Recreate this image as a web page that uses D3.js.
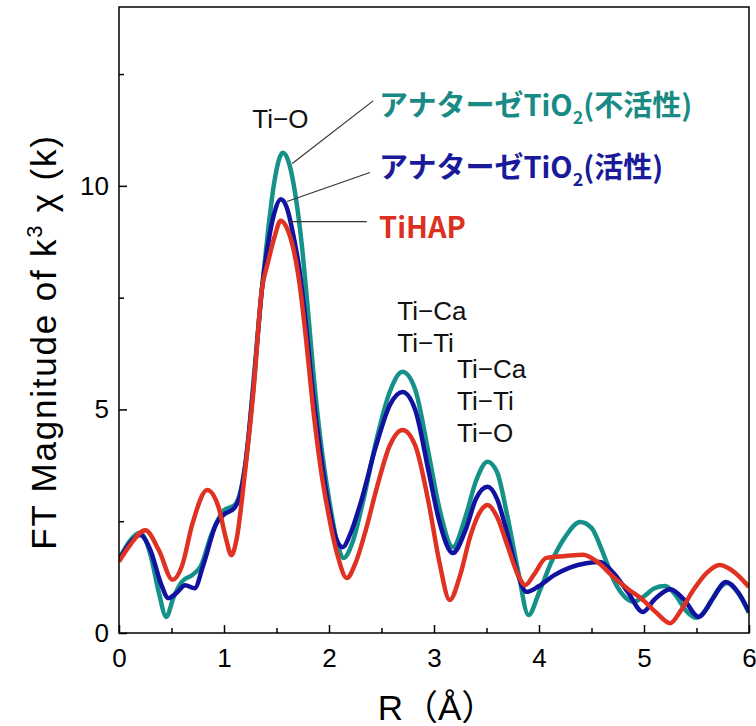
<!DOCTYPE html>
<html>
<head>
<meta charset="utf-8">
<script src="https://cdn.jsdelivr.net/npm/d3@7/dist/d3.min.js"></script>
<style>
  body { margin: 0; background: #fff; }
  svg { display: block; }
</style>
</head>
<body>
<svg width="756" height="726"></svg>
<script>
// R (Å) and FT magnitude
var rInactive = [0, 0.1, 0.2, 0.3, 0.38, 0.45, 0.52, 0.6, 0.7, 0.78, 0.88, 1.0, 1.1, 1.16, 1.22, 1.28, 1.36, 1.42, 1.48, 1.56, 1.62, 1.68, 1.74, 1.8, 1.86, 1.92, 2.0, 2.08, 2.14, 2.22, 2.32, 2.45, 2.58, 2.7, 2.82, 2.95, 3.05, 3.18, 3.3, 3.4, 3.51, 3.6, 3.7, 3.8, 3.9, 4.0, 4.12, 4.25, 4.39, 4.5, 4.6, 4.71, 4.8, 4.9, 5.0, 5.1, 5.2, 5.3, 5.4, 5.5, 5.6, 5.7, 5.79, 5.9, 6.0];
var fInactive = [1.65, 2.05, 2.24, 1.75, 0.9, 0.36, 0.8, 1.15, 1.3, 1.5, 2.2, 2.75, 2.86, 3.2, 4.1, 5.6, 7.67, 9.0, 10.1, 10.74, 10.5, 9.8, 8.7, 7.2, 5.6, 4.3, 3.0, 2.0, 1.68, 2.0, 2.9, 4.3, 5.4, 5.84, 5.45, 4.0, 2.8, 1.92, 2.6, 3.4, 3.83, 3.6, 2.6, 1.4, 0.4, 0.9, 1.6, 2.15, 2.48, 2.35, 1.85, 1.19, 0.85, 0.7, 0.82, 1.0, 1.05, 0.85, 0.5, 0.34, 0.55, 0.95, 1.12, 0.88, 0.45];

var rActive = [0, 0.1, 0.2, 0.3, 0.4, 0.47, 0.55, 0.63, 0.72, 0.8, 0.93, 1.0, 1.1, 1.15, 1.2, 1.28, 1.36, 1.42, 1.48, 1.54, 1.6, 1.66, 1.72, 1.78, 1.85, 1.92, 2.0, 2.07, 2.13, 2.2, 2.3, 2.45, 2.58, 2.7, 2.82, 2.95, 3.05, 3.18, 3.3, 3.4, 3.51, 3.6, 3.7, 3.8, 3.88, 4.0, 4.15, 4.3, 4.45, 4.58, 4.71, 4.85, 4.99, 5.1, 5.25, 5.38, 5.52, 5.65, 5.78, 5.9, 6.0];
var fActive = [1.63, 2.0, 2.19, 1.85, 1.1, 0.78, 0.9, 1.07, 1.0, 1.5, 2.46, 2.65, 2.8, 3.05, 3.7, 5.5, 7.67, 8.7, 9.4, 9.7, 9.5, 8.9, 8.1, 6.9, 5.3, 4.0, 2.8, 2.1, 1.92, 2.2, 2.9, 4.2, 5.1, 5.39, 5.0, 3.6, 2.5, 1.79, 2.3, 3.0, 3.27, 3.0, 2.2, 1.3, 0.92, 1.05, 1.3, 1.47, 1.56, 1.59, 1.34, 0.9, 0.47, 0.75, 0.98, 0.75, 0.36, 0.75, 1.14, 0.9, 0.47];

var rTiHAP = [0, 0.1, 0.25, 0.38, 0.51, 0.6, 0.7, 0.84, 0.95, 1.02, 1.07, 1.12, 1.2, 1.28, 1.36, 1.42, 1.48, 1.54, 1.6, 1.66, 1.72, 1.78, 1.85, 1.92, 2.0, 2.08, 2.17, 2.25, 2.35, 2.45, 2.58, 2.7, 2.82, 2.95, 3.05, 3.15, 3.25, 3.35, 3.45, 3.51, 3.6, 3.7, 3.8, 3.87, 3.95, 4.07, 4.25, 4.42, 4.55, 4.71, 4.85, 4.99, 5.12, 5.25, 5.35, 5.47, 5.6, 5.72, 5.85, 6.0];
var fTiHAP = [1.6, 1.95, 2.3, 1.85, 1.19, 1.5, 2.45, 3.2, 2.8, 2.1, 1.74, 2.1, 3.6, 5.4, 7.67, 8.3, 8.85, 9.22, 9.05, 8.6, 7.8, 6.6, 5.0, 3.7, 2.6, 1.75, 1.23, 1.55, 2.3, 3.2, 4.2, 4.54, 4.2, 2.9, 1.6, 0.74, 1.3, 2.2, 2.75, 2.86, 2.6, 1.95, 1.3, 1.07, 1.3, 1.68, 1.72, 1.75, 1.6, 1.25, 0.98, 0.74, 0.45, 0.22, 0.5, 0.96, 1.35, 1.52, 1.38, 1.03];

var xMajor = [0, 1, 2, 3, 4, 5, 6];
var xMinor = [0.5, 1.5, 2.5, 3.5, 4.5, 5.5];
var yMajor = [0, 5, 10];
var yMinor = [2.5, 7.5, 12.5];

var peaks = [
  { lines: ["Ti\u2212O"], r: 1.27, v: 11.3 },
  { lines: ["Ti\u2212Ca", "Ti\u2212Ti"], r: 2.65, v: 7.0 },
  { lines: ["Ti\u2212Ca", "Ti\u2212Ti", "Ti\u2212O"], r: 3.22, v: 5.7 }
];

var svg = d3.select("svg"),
    margin = { top: 7, right: 7, bottom: 93, left: 119 },
    width = +svg.attr("width"),
    height = +svg.attr("height");

var x = d3.scaleLinear()
    .domain([0, 6])
    .range([margin.left, width - margin.right]);

var y = d3.scaleLinear()
    .domain([0, 14])
    .range([height - margin.bottom, margin.top]);

var series = [
  { r: rInactive, f: fInactive, color: "#15918a", label: "inactive" },
  { r: rActive, f: fActive, color: "#1212a0", label: "active" },
  { r: rTiHAP, f: fTiHAP, color: "#e03222", label: "TiHAP" }
];

// axes, ticks pointing inward
var tickFont = "26px 'Liberation Sans', Arial, sans-serif";

svg.append("g")
    .attr("transform", "translate(0," + y(0) + ")")
    .call(d3.axisBottom(x).tickValues(xMajor).tickSize(-8).tickPadding(16).tickFormat(d3.format("d")))
    .call(function (g) { g.select(".domain").remove(); })
    .call(function (g) { g.selectAll("text").style("font", tickFont).attr("fill", "#000"); })
    .call(function (g) { g.selectAll("line").attr("stroke", "#000").attr("stroke-width", 1.5); });

svg.append("g")
    .attr("transform", "translate(0," + y(0) + ")")
    .call(d3.axisBottom(x).tickValues(xMinor).tickSize(-5).tickFormat(""))
    .call(function (g) { g.select(".domain").remove(); })
    .call(function (g) { g.selectAll("line").attr("stroke", "#000").attr("stroke-width", 1.5); });

svg.append("g")
    .attr("transform", "translate(" + x(0) + ",0)")
    .call(d3.axisLeft(y).tickValues(yMajor).tickSize(-8).tickPadding(10).tickFormat(d3.format("d")))
    .call(function (g) { g.select(".domain").remove(); })
    .call(function (g) { g.selectAll("text").style("font", tickFont).attr("fill", "#000"); })
    .call(function (g) { g.selectAll("line").attr("stroke", "#000").attr("stroke-width", 1.5); });

svg.append("g")
    .attr("transform", "translate(" + x(0) + ",0)")
    .call(d3.axisLeft(y).tickValues(yMinor).tickSize(-5).tickFormat(""))
    .call(function (g) { g.select(".domain").remove(); })
    .call(function (g) { g.selectAll("line").attr("stroke", "#000").attr("stroke-width", 1.5); });

// curves
var line = d3.line()
    .x(function (d) { return x(d[0]); })
    .y(function (d) { return y(d[1]); })
    .curve(d3.curveMonotoneX);

svg.append("defs").append("clipPath").attr("id", "plot")
  .append("rect")
    .attr("x", x(0)).attr("y", y(14))
    .attr("width", x(6) - x(0)).attr("height", y(0) - y(14));

svg.append("g")
    .attr("clip-path", "url(#plot)")
  .selectAll("path")
  .data(series)
  .enter().append("path")
    .attr("d", function (s) { return line(d3.zip(s.r, s.f)); })
    .attr("fill", "none")
    .attr("stroke", function (s) { return s.color; })
    .attr("stroke-width", 4.5)
    .attr("stroke-linejoin", "round");

// frame
svg.append("rect")
    .attr("x", x(0)).attr("y", y(14))
    .attr("width", x(6) - x(0)).attr("height", y(0) - y(14))
    .attr("fill", "none")
    .attr("stroke", "#000")
    .attr("stroke-width", 1.5);

// legend with leader lines to the main peak
var legend = [
  { text: "\u30a2\u30ca\u30bf\u30fc\u30bc", sub: "2", tail: "(\u4e0d\u6d3b\u6027)", color: "#198a84", r0: 1.65, v0: 10.5, r1: 2.42, v1: 11.9, ly: 116 },
  { text: "\u30a2\u30ca\u30bf\u30fc\u30bc", sub: "2", tail: "(\u6d3b\u6027)", color: "#1a1a9a", r0: 1.6, v0: 9.65, r1: 2.39, v1: 10.3, ly: 178 },
  { text: "TiHAP", sub: null, tail: "", color: "#dc3020", r0: 1.62, v0: 9.2, r1: 2.36, v1: 9.2, ly: 238 }
];

svg.append("g").selectAll("line")
  .data(legend)
  .enter().append("line")
    .attr("x1", function (d) { return x(d.r0); })
    .attr("y1", function (d) { return y(d.v0); })
    .attr("x2", function (d) { return x(d.r1); })
    .attr("y2", function (d) { return y(d.v1); })
    .attr("stroke", "#333")
    .attr("stroke-width", 1.2);

var lt = svg.append("g").selectAll("text")
  .data(legend)
  .enter().append("text")
    .attr("x", 379)
    .attr("y", function (d) { return d.ly; })
    .attr("fill", function (d) { return d.color; })
    .style("font", "bold 29px 'Noto Sans CJK JP', sans-serif");

lt.each(function (d) {
  var t = d3.select(this);
  if (d.sub) {
    t.append("tspan").text(d.text + "TiO");
    t.append("tspan").text(d.sub).attr("dy", 8).style("font-size", "18px");
    t.append("tspan").text(d.tail).attr("dy", -8);
  } else {
    t.append("tspan").text(d.text);
  }
});

// peak assignments
var pk = svg.append("g").selectAll("text")
  .data(peaks)
  .enter().append("text")
    .attr("x", function (d) { return x(d.r); })
    .attr("y", function (d) { return y(d.v); })
    .attr("fill", "#111")
    .style("font", "26px 'Liberation Sans', Arial, sans-serif");

pk.each(function (d) {
  var t = d3.select(this);
  d.lines.forEach(function (s, i) {
    t.append("tspan").attr("x", x(d.r)).attr("dy", i ? 32 : 0).text(s);
  });
});

// axis titles
svg.append("text")
    .attr("x", 437)
    .attr("y", 720)
    .attr("text-anchor", "middle")
    .style("font", "35px 'Liberation Sans', 'Noto Sans CJK JP', sans-serif")
    .text("R\uff08\u00c5\uff09");

var yt = svg.append("text")
    .attr("transform", "translate(56,342) rotate(-90)")
    .attr("text-anchor", "middle")
    .style("font", "35px 'Liberation Sans', Arial, sans-serif")
    .style("letter-spacing", "1.8px");
yt.append("tspan").text("FT Magnitude of k");
yt.append("tspan").text("3").attr("dy", -14).style("font-size", "22px");
yt.append("tspan").text(" \u03c7 (k)").attr("dy", 14);
</script>
</body>
</html>
